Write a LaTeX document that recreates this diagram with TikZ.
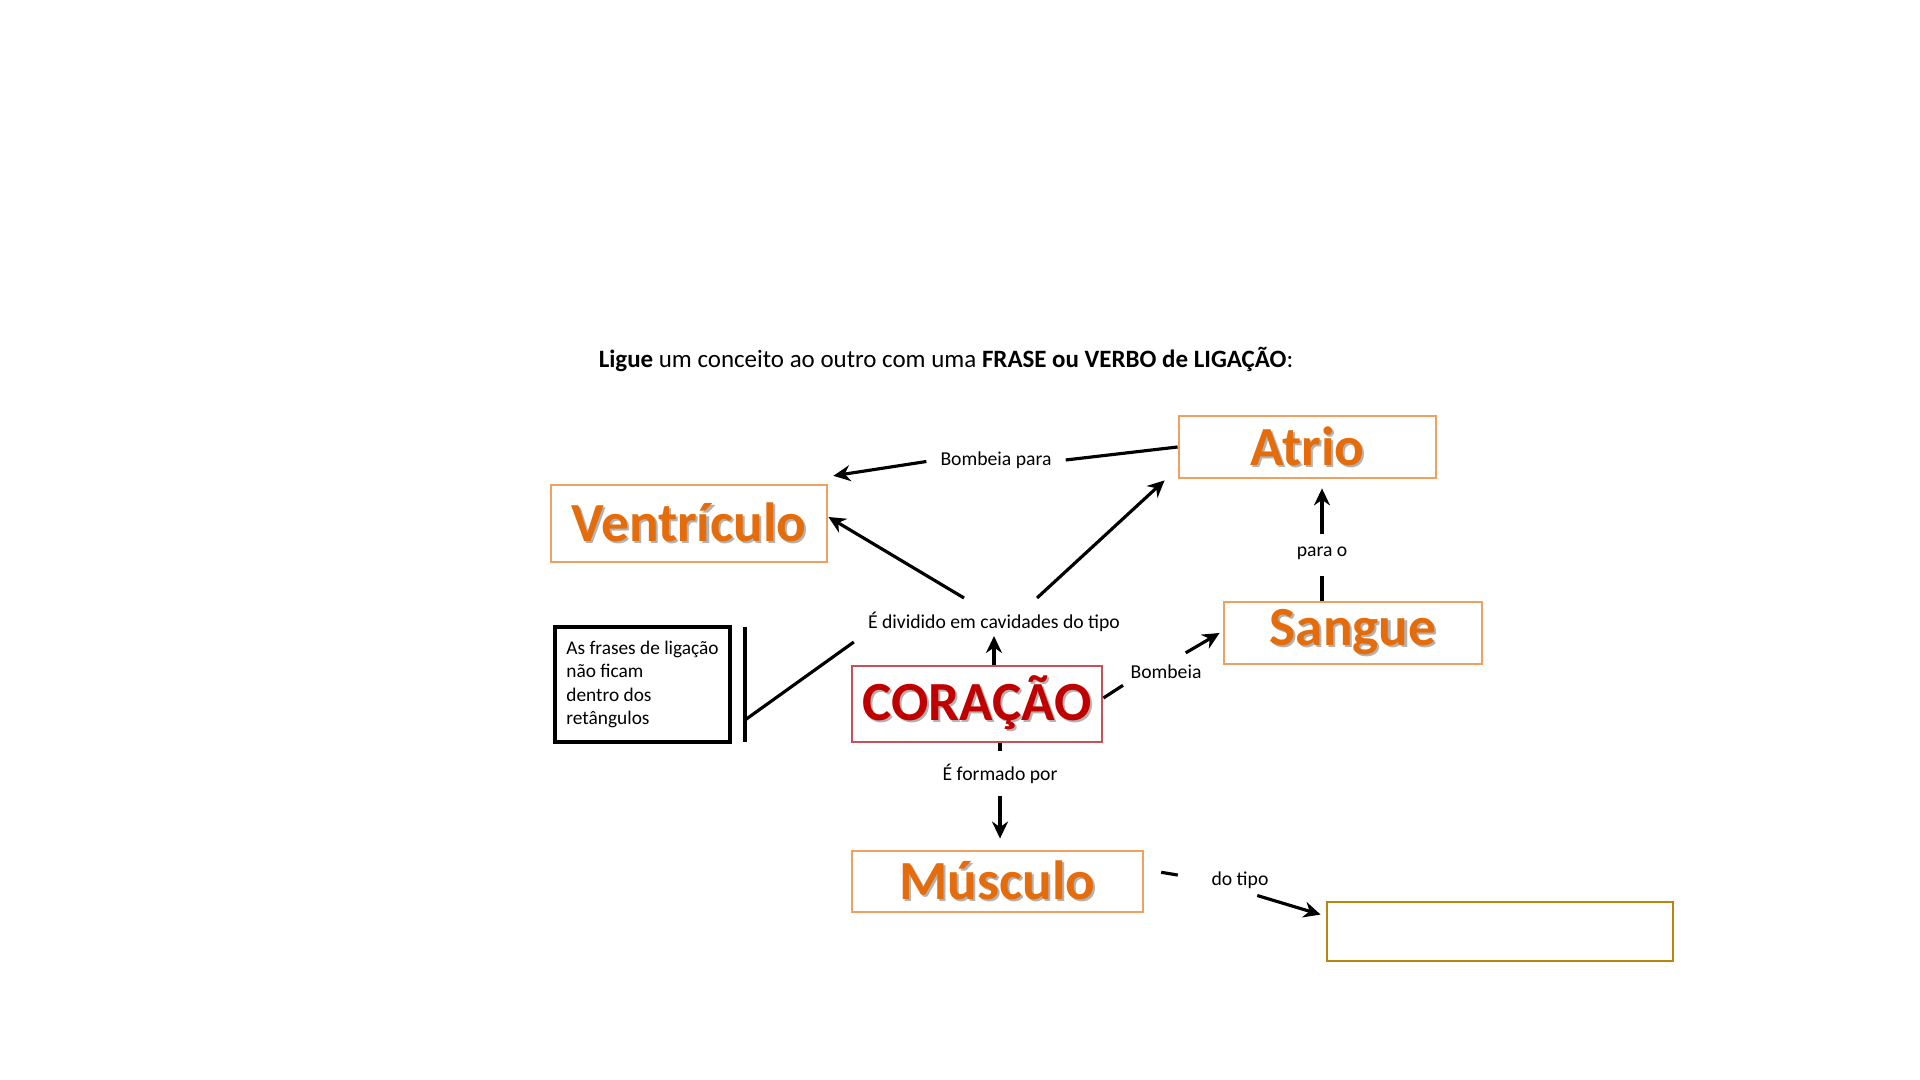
\documentclass[tikz,border=0pt]{standalone}
\usepackage{fontspec}
\setmainfont{Carlito}
\usepackage{tikz}
\usepackage{xcolor}
\usetikzlibrary{shapes.geometric, arrows.meta, positioning, calc}
\definecolor{conceptorange}{HTML}{E46C0A}
\definecolor{borderorange}{HTML}{F0A060}
\definecolor{heartred}{HTML}{C00000}
\definecolor{heartborder}{HTML}{C8505A}
\definecolor{emptygold}{HTML}{B8860B}
\newcommand{\shadowword}[1]{\makebox[0pt][l]{\hspace{0.6pt}\raisebox{-0.6pt}{\color{black!30}#1}}#1}
\tikzstyle{concept} = [rectangle, draw=borderorange, fill=white, line width=0.8pt, inner ysep=1pt,
                       text=conceptorange, font=\fontsize{15.7}{18}\selectfont\bfseries]
\tikzstyle{heart} = [rectangle, draw=heartborder, fill=white, line width=0.8pt, inner ysep=1pt,
                     text=heartred, font=\fontsize{15.7}{18}\selectfont\bfseries]
\tikzstyle{linking} = [inner sep=1pt, font=\fontsize{5.6}{6.6}\selectfont]
\tikzstyle{arrow} = [-{Stealth[length=1.7mm, width=1.6mm]}, line width=0.9pt]
\tikzstyle{plain} = [line width=0.9pt]

\begin{document}
\begin{tikzpicture}
    \useasboundingbox (0,0) rectangle (19.2,10.8);
    \node[font=\fontsize{7.1}{9}\selectfont] (title) at (9.46,7.21)
        {\textbf{Ligue} um conceito ao outro com uma \textbf{FRASE ou VERBO de LIGAÇÃO}:};

    % concepts
    \node[concept, minimum width=2.57cm, minimum height=0.62cm] (atrio) at (13.075,6.33) {\shadowword{Atrio}};
    \node[concept, minimum width=2.76cm, minimum height=0.77cm] (ventriculo) at (6.89,5.565) {\shadowword{Ventrículo}};
    \node[concept, minimum width=2.58cm, minimum height=0.62cm] (sangue) at (13.53,4.47) {\shadowword{Sangue}};
    \node[heart, minimum width=2.50cm, minimum height=0.76cm, inner xsep=1pt] (coracao) at (9.77,3.76) {\shadowword{CORAÇÃO}};
    \node[concept, minimum width=2.91cm, minimum height=0.61cm] (musculo) at (9.975,1.985) {\shadowword{Músculo}};
    \node[rectangle, draw=emptygold, line width=0.8pt, minimum width=3.46cm, minimum height=0.59cm] (empty) at (15.0,1.485) {};

    % note box
    \node[rectangle, draw=black, line width=1.1pt, minimum width=1.75cm, minimum height=1.15cm,
          inner xsep=1pt, align=left, font=\fontsize{5.5}{6.6}\selectfont] (note) at (6.425,3.955)
        {As frases de ligação\\não ficam\\dentro dos\\retângulos};
    \coordinate (bartop) at (7.45,4.53);
    \coordinate (barbot) at (7.45,3.38);
    \coordinate (barhit) at (7.45,3.60);
    \draw[line width=1.1pt] (bartop) -- (barbot);

    % linking phrases
    \node[linking] (bombpara) at (9.96,6.20) {Bombeia para};
    \node[linking] (parao) at (13.22,5.27) {para o};
    \node[linking] (dividido) at (9.94,4.58) {É dividido em cavidades do tipo};
    \node[linking] (bombeia) at (11.66,4.08) {Bombeia};
    \node[linking] (formado) at (10.0,3.06) {É formado por};
    \node[linking] (dotipo) at (12.40,2.00) {do tipo};

    % connectors
    \draw[plain] (atrio.west) -- ([xshift=1mm]bombpara.east);
    \draw[arrow, shorten <=1mm, shorten >=0.5mm] (bombpara.west) -- ([yshift=0.7mm]ventriculo.north east);

    \draw[arrow] ([xshift=-3mm, yshift=1mm]dividido.north) -- ([yshift=0.65mm]ventriculo.east);
    \draw[arrow] ([xshift=4.3mm, yshift=1mm]dividido.north) -- ([xshift=-1.3mm, yshift=-0.1mm]atrio.south west);
    \draw[plain] ([xshift=-1mm, yshift=-0.6mm]dividido.south west) -- (barhit);
    \draw[arrow] (coracao.north -| dividido.south) -- (dividido.south);

    \draw[plain, shorten >=0.4mm] ([yshift=0.6mm]coracao.east) -- (bombeia.south west);
    \draw[arrow] ([xshift=-2mm, yshift=0.8mm]bombeia.north east) -- ([xshift=-0.3mm]sangue.west);

    \draw[plain] (sangue.north -| parao.south) -- ([yshift=-1.2mm]parao.south);
    \draw[arrow, shorten >=0.9mm] ([yshift=0.8mm]parao.north) -- (parao.north |- atrio.south);

    \draw[plain] (coracao.south -| formado.north) -- ([yshift=0.9mm]formado.north);
    \draw[arrow, shorten <=0.8mm, shorten >=1.1mm] (formado.south) -- (formado.south |- musculo.north);

    \draw[plain, shorten <=1.7mm, shorten >=3.0mm] ([yshift=1.2mm]musculo.east) -- (dotipo.west);
    \draw[arrow, shorten <=1mm] ([xshift=-2.5mm]dotipo.south east) -- ([xshift=-0.5mm, yshift=-1.4mm]empty.north west);
\end{tikzpicture}
\end{document}
